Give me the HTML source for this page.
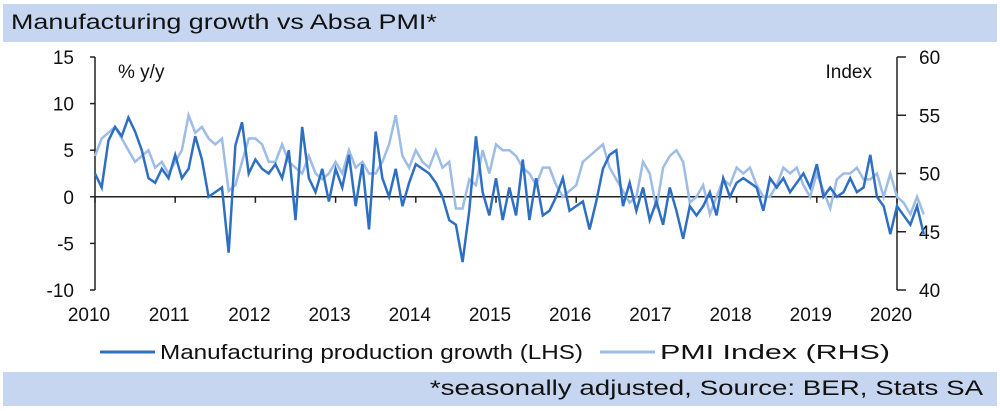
<!DOCTYPE html>
<html><head><meta charset="utf-8"><style>
body{margin:0;background:#fff;font-family:"Liberation Sans",sans-serif;}
#wrap{position:relative;width:1000px;height:411px;overflow:hidden;}
.bar{position:absolute;left:3px;width:994px;background:#c7d6f0;color:#111;font-size:21px;}
.bar span{display:inline-block;white-space:nowrap;}
</style></head><body>
<div id="wrap">
<div class="bar" style="top:4px;height:38px;line-height:38px;padding-left:8px;box-sizing:border-box;"><span style="transform:scaleX(1.28);transform-origin:left center;">Manufacturing growth vs Absa PMI*</span></div>
<svg id="chart" width="1000" height="411" style="position:absolute;left:0;top:0"></svg>
<div class="bar" style="top:372px;height:34px;line-height:34px;text-align:right;padding-right:14px;box-sizing:border-box;"><span style="transform:scaleX(1.32);transform-origin:right center;">*seasonally adjusted, Source: BER, Stats SA</span></div>
</div>
<script>
const years=["2010","2011","2012","2013","2014","2015","2016","2017","2018","2019","2020"];
const leftTicks=[15,10,5,0,-5,-10];
const rightTicks=[60,55,50,45,40];
const mfg=[2.5,1,6,7.5,6.5,8.5,7,5,2,1.5,3,2,
4.5,2,3,6.5,4,0,0.5,1,-6,5.5,8,2.5,
4,3,2.5,3.5,2,5,-2.5,7.5,2,0.5,3,-0.5,
3,1,4.5,-1,3.5,-3.5,7,2,0,3,-1,1.5,
3.5,3,2.5,1.5,0,-2.5,-3,-7,-1.5,6.5,0.5,-2,
2,-2.5,1,-2,4,-2.5,2,-2,-1.5,0,2,-1.5,
-1,-0.5,-3.5,-0.5,3,4.5,5,-1,1.5,-1.5,1,-2.5,
-0.5,-3,1,-1.5,-4.5,-1,-2,-1,0.5,-2,2,0,
1.5,2,1.5,1,-1.5,2,1,2,0.5,1.5,2.5,1,
3.5,0,1,0,0.5,2,0.5,1,4.5,0,-1,-4,
-1,-2,-3,-1,-4];
const pmi=[51.5,53,53.5,54,53,52,51,51.5,52,50.5,51,50,
51,52,55,53.5,54,53,52.5,53,48.5,49,51,53,
53,52.5,51,51,52.5,51,50.5,50,51.5,50,49.5,50,
51,50,52,50.5,51,50,50,51,52.5,55,51.5,50.5,
52,51,50.5,52,50.5,51,47,47,49.5,49,52,50,
52.5,52,52,51.5,50.5,50,49,50.5,50.5,49,48,48.5,
49,51,51.5,52,52.5,50.5,49.5,48.5,47.5,48,51,50,
47,50.5,51.5,52,51,47.5,48,49,46.5,48,49.5,49,
50.5,50,50.5,49,48,48,49,50.5,50,50.5,49,48,
50,48.5,47,49.5,50,50,50.5,49.5,49.5,50,48,50,
48,47.5,46.5,48,46.5];
const svg=document.getElementById('chart');const NS='http://www.w3.org/2000/svg';
const X0=95,X1=897,YT=57,YB=290;
const xs=i=>X0+(X1-X0)*i/120;
const yl=v=>YB-(v+10)/25*(YB-YT);
const yr=v=>YB-(v-40)/20*(YB-YT);
function mk(t,a){const e=document.createElementNS(NS,t);for(const k in a)e.setAttribute(k,a[k]);svg.appendChild(e);return e;}
let e;
e=mk('line',{x1:X0,y1:YT,x2:X0,y2:YB,stroke:'#222','stroke-width':1.5});

e=mk('line',{x1:X1,y1:YT,x2:X1,y2:YB,stroke:'#222','stroke-width':1.5});

e=mk('line',{x1:X0,y1:yl(0),x2:X1,y2:yl(0),stroke:'#222','stroke-width':1.5});

leftTicks.forEach(v=>{
 e=mk('line',{x1:X0-5,y1:yl(v),x2:X0,y2:yl(v),stroke:'#222','stroke-width':1.5});
 
 e=mk('text',{x:X0-21,y:yl(v)+7,'text-anchor':'end','font-size':19,fill:'#111'});e.textContent=v;
 
});
rightTicks.forEach(v=>{
 e=mk('line',{x1:X1,y1:yr(v),x2:X1+9,y2:yr(v),stroke:'#222','stroke-width':1.5});
 
 e=mk('text',{x:X1+22,y:yr(v)+7,'font-size':19,fill:'#111'});e.textContent=v;
 
});
years.forEach((y,i)=>{
 const x=X0+(X1-X0)*i/10;
 e=mk('line',{x1:x,y1:yl(0),x2:x,y2:yl(0)+6,stroke:'#222','stroke-width':1.5});
 
 e=mk('text',{x:x-6,y:321,'text-anchor':'middle','font-size':19,fill:'#111'});e.textContent=y;
 
});
e=mk('text',{x:118,y:78,'font-size':19,fill:'#111'});e.textContent='% y/y';

e=mk('text',{x:872,y:78,'text-anchor':'end','font-size':19,fill:'#111'});e.textContent='Index';

e=mk('polyline',{points:pmi.map((v,i)=>xs(i)+','+yr(v)).join(' '),fill:'none',stroke:'#9dbce6','stroke-width':2.5});

e=mk('polyline',{points:mfg.map((v,i)=>xs(i)+','+yl(v)).join(' '),fill:'none',stroke:'#2f6fc3','stroke-width':2.5});

e=mk('line',{x1:100,y1:352,x2:155,y2:352,stroke:'#2f6fc3','stroke-width':3});

e=mk('text',{x:160,y:359,'font-size':20,fill:'#111',textLength:423,lengthAdjust:'spacingAndGlyphs'});e.textContent='Manufacturing production growth (LHS)';

e=mk('line',{x1:600,y1:352,x2:655,y2:352,stroke:'#9dbce6','stroke-width':3});

e=mk('text',{x:660,y:359,'font-size':20,fill:'#111',textLength:230,lengthAdjust:'spacingAndGlyphs'});e.textContent='PMI Index  (RHS)';

</script>
</body></html>
